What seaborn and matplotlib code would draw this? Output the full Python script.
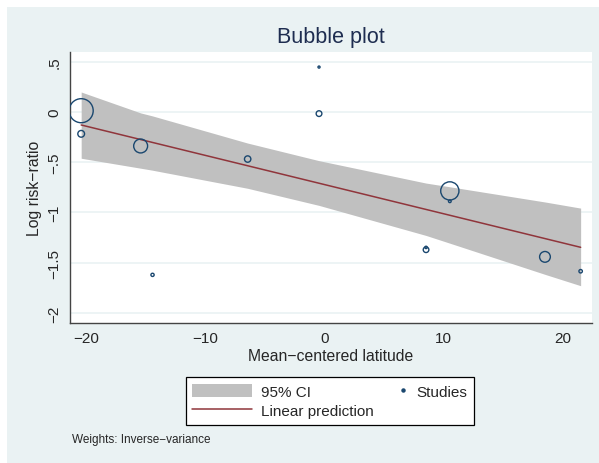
"""Bubble plot: meta-regression of log risk-ratio on mean-centered latitude."""
import numpy as np
import matplotlib
matplotlib.use("Agg")
import matplotlib.pyplot as plt
import seaborn as sns
from matplotlib.patches import Rectangle, Patch
from matplotlib.lines import Line2D
from matplotlib.legend_handler import HandlerLine2D

# studies (mean-centered latitude, log risk-ratio, inverse-variance weight)
latitude = [10.54, 21.54, 8.54, 18.54, -20.46, 10.54, -14.46, -20.46,
            -6.46, 8.54, -15.46, -0.46, -0.46]
log_rr = [-0.889, -1.585, -1.348, -1.442, -0.218, -0.786, -1.621, 0.012,
          -0.469, -1.371, -0.339, 0.446, -0.017]
weight = [3.07, 5.13, 2.41, 49.9, 19.6, 143.5, 4.48, 249.5,
          17.6, 13.7, 83.6, 1.88, 14.1]

# linear prediction and its 95% CI, read at the observed latitudes
pred_x = [-20.46, 21.54]
pred_y = [-0.13, -1.347]
band_x = [-20.46, -15.46, -14.46, -6.46, -0.46, 8.54, 10.54, 18.54, 21.54]
band_hi = [0.198, -0.01, -0.04, -0.31, -0.485, -0.708, -0.745, -0.896, -0.957]
band_lo = [-0.461, -0.56, -0.58, -0.76, -0.93, -1.229, -1.306, -1.616, -1.729]

x_ticks = [-20, -10, 0, 10, 20]
y_ticks = [-2, -1.5, -1, -0.5, 0, 0.5]
y_tick_labels = ["\u22122", "\u22121.5", "\u22121", "\u2212.5", "0", ".5"]

NAVY = "#1a476f"
MAROON = "#90353b"
BAND = "#c0c0c0"
BG = "#eaf2f3"


class RightDot(HandlerLine2D):
    """Legend key with the marker pushed to the right end, like Stata."""
    def get_xdata(self, legend, xdescent, ydescent, width, height, fontsize):
        right = width - xdescent
        xdata = np.array([right - 6, right])
        return xdata, xdata


sns.set_style("white")
plt.rcParams["font.family"] = ["Liberation Sans", "DejaVu Sans"]

fig = plt.figure(figsize=(5.99, 4.64), dpi=100, facecolor="white")
fig.patches.append(Rectangle((7 / 599, 0), 1, 1 - 8 / 464, transform=fig.transFigure,
                             facecolor=BG, edgecolor="none", zorder=-10))
ax = fig.add_axes([70 / 599, 1 - 324 / 464, 521.7 / 599, 271 / 464])
ax.set_facecolor("white")

for yt in y_ticks:
    ax.axhline(yt, color=BG, linewidth=1.2, zorder=0)

ax.fill_between(band_x, band_lo, band_hi, color=BAND, linewidth=0, zorder=1)
sns.lineplot(x=pred_x, y=pred_y, color=MAROON, linewidth=1.1, ax=ax, zorder=2)

k = 1.2
sns.scatterplot(x=latitude, y=log_rr, size=weight,
                sizes=(k * min(weight), k * max(weight)),
                legend=False, ax=ax, linewidth=1.0, zorder=3)
pts = ax.collections[-1]
pts.set_facecolor("none")
pts.set_edgecolor(NAVY)

ax.set_xlim(-21.4, 22.47)
ax.set_ylim(-2.1, 0.596)
ax.set_xticks(x_ticks)
ax.set_xticklabels([str(v).replace("-", "\u2212") for v in x_ticks])
ax.set_yticks(y_ticks)
ax.set_yticklabels(y_tick_labels, rotation=90, va="center")
ax.tick_params(axis="both", direction="out", length=4, width=0.9,
               color="#444444", labelsize=11, pad=2)

for side in ["top", "right"]:
    ax.spines[side].set_visible(False)
for side in ["left", "bottom"]:
    ax.spines[side].set_color("#444444")
    ax.spines[side].set_linewidth(1.0)

ax.set_xlabel("Mean\u2212centered latitude", fontsize=11.3, labelpad=2)
ax.set_ylabel("Log risk\u2212ratio", fontsize=11.3, labelpad=4)
ax.set_title("Bubble plot", fontsize=15.5, color="#1e2d50", pad=7)

handles = [Patch(facecolor=BAND, edgecolor="none"),
           Line2D([], [], color=MAROON, linewidth=1.1),
           Line2D([], [], color=NAVY, linestyle="none", marker="o", markersize=2.2)]
labels = ["95% CI", "Linear prediction", "Studies"]
leg = fig.legend(handles, labels, ncol=2, loc="center",
                 bbox_to_anchor=(330 / 599, 1 - 402 / 464),
                 fontsize=11, frameon=True, fancybox=False, framealpha=1,
                 edgecolor="black", handlelength=3.9, handleheight=1.0,
                 handletextpad=0.6, labelspacing=0.3, columnspacing=-1.7,
                 borderpad=0.45,
                 handler_map={handles[2]: RightDot(numpoints=1)})
leg.get_frame().set_linewidth(0.9)

fig.text(72 / 599, 1 - 440 / 464, "Weights: Inverse\u2212variance", fontsize=8.5,
         va="center", ha="left")

fig.savefig("out.png", dpi=100)
